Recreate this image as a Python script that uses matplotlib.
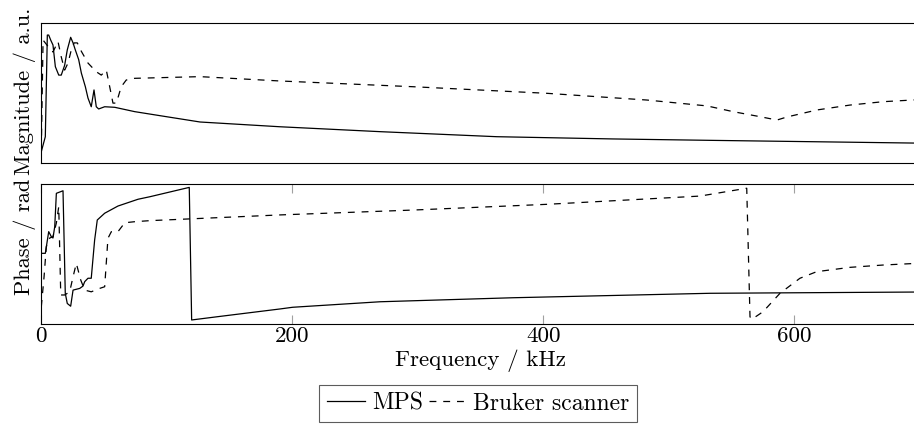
"""
plot.py — Magnitude and phase spectra, MPS vs. Bruker scanner.
"""

import matplotlib
matplotlib.use('Agg')
import matplotlib.pyplot as plt

# ---------------------------------------------------------------------------
# Data
# ---------------------------------------------------------------------------

mps_mag_freq = [0, 3.2, 4.8, 5.9, 7.5, 9.3, 11.2, 13.9, 15.9, 18.6, 20.7, 23.4, 25.3, 27.1,
                29.8, 31.9, 35.1, 37.2, 39.8, 42.0, 43.8, 45.7, 50.5, 58.5, 74.4, 94.7,
                126.5, 190.2, 269.9, 362.9, 455.5, 532.8, 700]
mps_mag = [0.083, 0.19, 0.916, 0.916, 0.88, 0.845, 0.69, 0.63, 0.63, 0.70, 0.81, 0.90, 0.86, 0.81,
           0.74, 0.645, 0.547, 0.466, 0.404, 0.524, 0.404, 0.388, 0.404, 0.40, 0.369, 0.34,
           0.295, 0.261, 0.226, 0.19, 0.174, 0.164, 0.144]

bruker_mag_freq = [0, 1.4, 6.7, 9.3, 13.3, 15.9, 18.6, 21.3, 23.9, 26.1, 28.7, 31.9, 37.2, 43.8,
                   47.8, 51.8, 54.5, 57.1, 59.8, 63.7, 67.7, 74.4, 126.5, 190.2, 296.2, 402.7,
                   482.4, 530.4, 551.2, 572.7, 586.2, 594.2, 618.1, 644.4, 670.7, 700]
bruker_mag = [0.10, 0.88, 0.82, 0.795, 0.87, 0.76, 0.666, 0.716, 0.81, 0.86, 0.86, 0.80, 0.716, 0.654,
              0.63, 0.666, 0.547, 0.43, 0.43, 0.547, 0.595, 0.607, 0.619, 0.588, 0.547, 0.50,
              0.452, 0.41, 0.369, 0.333, 0.309, 0.331, 0.381, 0.416, 0.44, 0.455]

mps_phase_freq = [0, 3.2, 5.9, 8.0, 9.3, 10.7, 12.0, 17.3, 19.1, 20.7, 23.4, 25.3, 27.9, 30.6,
                  33.2, 34.6, 37.2, 39.8, 42.5, 44.6, 50.5, 61.1, 77.1, 86.6, 117.9, 119.8,
                  139.8, 190.2, 200.3, 269.9, 375.9, 532.8, 700]
mps_phase = [0.017, 0.017, 1.04, 0.80, 0.74, 1.27, 2.85, 2.97, -1.87, -2.35, -2.48, -1.72, -1.68, -1.64,
             -1.53, -1.32, -1.16, -1.16, 0.645, 1.59, 1.91, 2.25, 2.57, 2.69, 3.13, -3.13,
             -2.98, -2.61, -2.53, -2.27, -2.08, -1.87, -1.81]

bruker_phase_freq = [0, 2.2, 4.0, 6.7, 9.3, 12.0, 13.9, 15.5, 18.6, 22.6, 25.3, 27.9, 31.4, 34.6,
                     39.8, 46.5, 50.5, 53.1, 55.8, 61.1, 66.5, 74.4, 86.6, 190.2, 296.2, 402.7,
                     524.9, 562.1, 564.7, 566.1, 575.1, 588.6, 604.5, 617.8, 644.4, 670.7, 700]
bruker_phase = [-2.51, -1.09, 0.33, 0.74, 0.80, 1.45, 2.22, -1.95, -1.95, -1.80, -1.09, -0.46, -1.24, -1.72,
                -1.80, -1.64, -1.56, 0.725, 1.04, 1.04, 1.46, 1.51, 1.56, 1.83, 2.06, 2.33,
                2.72, 3.09, -2.98, -3.10, -2.74, -1.87, -1.16, -0.85, -0.645, -0.536, -0.45]

x_ticks = [0, 200, 400, 600]

# ---------------------------------------------------------------------------
# Style
# ---------------------------------------------------------------------------

plt.rcParams['font.family'] = ['cmr10', 'DejaVu Serif']
plt.rcParams['axes.unicode_minus'] = False
plt.rcParams['mathtext.fontset'] = 'cm'
FS = 16.6
FS_Y = 16.2
LW = 0.9
DASH = (5.5, 5.5)


def main():
    W, H = 914, 424
    fig = plt.figure(figsize=(W / 100, H / 100), dpi=100)

    left, width = 41.3 / W, 878.5 / W
    ax_mag   = fig.add_axes([left, 1 - 163.3 / H, width, 140 / H])
    ax_phase = fig.add_axes([left, 1 - 324.0 / H, width, 140 / H])

    # ── Magnitude ─────────────────────────────────────────────────────────
    ax_mag.plot(mps_mag_freq, mps_mag, color='black', lw=LW)
    ax_mag.plot(bruker_mag_freq, bruker_mag, color='black', lw=LW, dashes=DASH)
    ax_mag.set_xlim(0, 700)
    ax_mag.set_ylim(0, 1)
    ax_mag.set_xticks([])
    ax_mag.set_yticks([])

    # ── Phase ─────────────────────────────────────────────────────────────
    l1, = ax_phase.plot(mps_phase_freq, mps_phase, color='black', lw=LW, label='MPS')
    l2, = ax_phase.plot(bruker_phase_freq, bruker_phase, color='black', lw=LW,
                        dashes=DASH, label='Bruker scanner')
    ax_phase.set_xlim(0, 700)
    ax_phase.set_ylim(-3.32, 3.29)
    ax_phase.set_yticks([])
    ax_phase.set_xticks(x_ticks)
    ax_phase.tick_params(axis='x', direction='in', length=6.5, width=0.8, color='#a0a0a0',
                         top=True, bottom=True, pad=1.5, labelsize=FS)

    for ax in (ax_mag, ax_phase):
        for sp in ax.spines.values():
            sp.set_linewidth(0.8)
            sp.set_color('black')

    # ── Labels ────────────────────────────────────────────────────────────
    fig.text(24.7 / W, 1 - 91.5 / H, 'Magnitude / a.u.', rotation=90,
             ha='center', va='center', fontsize=FS_Y)
    fig.text(24.7 / W, 1 - 236.5 / H, 'Phase / rad', rotation=90,
             ha='center', va='center', fontsize=FS_Y)
    fig.text(480.5 / W, 1 - 361 / H, 'Frequency / kHz', ha='center', va='center', fontsize=FS)

    leg = fig.legend([l1, l2], ['MPS', 'Bruker scanner'], ncol=2, loc='upper left',
                     bbox_to_anchor=(319.3 / W, 1 - 385 / H), fontsize=17,
                     frameon=True, fancybox=False, edgecolor='#333333',
                     handlelength=1.6, handletextpad=0.3, columnspacing=0.25,
                     borderpad=0.32, borderaxespad=0)
    leg.get_frame().set_linewidth(0.8)

    fig.savefig('out.png', dpi=100)


if __name__ == '__main__':
    main()
